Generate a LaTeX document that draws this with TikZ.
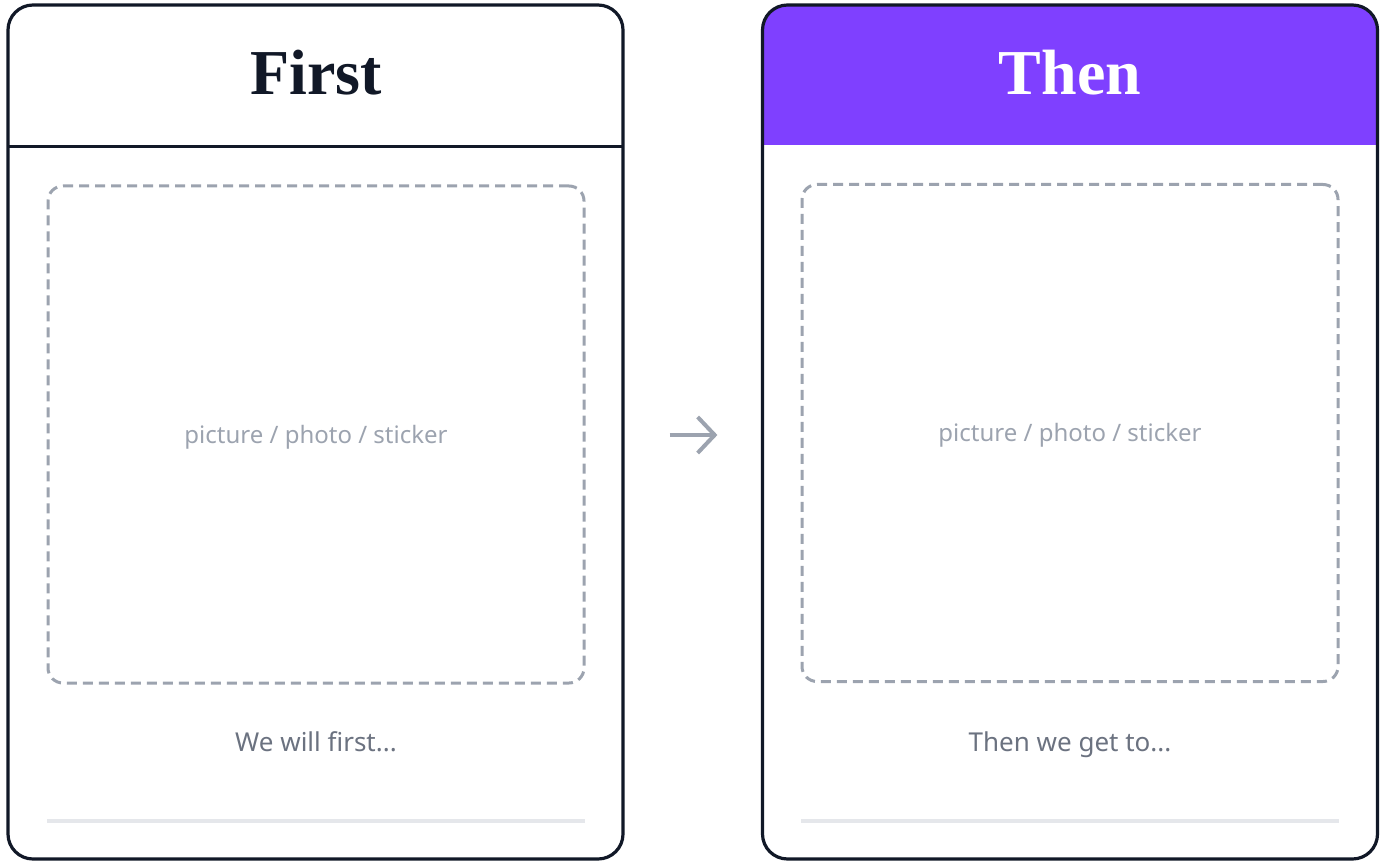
\documentclass[tikz,border=0pt]{standalone}
\usepackage{fontspec}
\setmainfont{Liberation Serif}
\newfontfamily\uisans{Noto Sans}
\usetikzlibrary{arrows.meta}
\definecolor{ink}{HTML}{111827}
\definecolor{violet}{HTML}{7F40FF}
\definecolor{dashgray}{HTML}{9CA3AF}
\definecolor{capgray}{HTML}{6B7280}
\definecolor{rulegray}{HTML}{E5E7EB}
\tikzset{
  cardbox/.style={draw=ink, line width=3.2pt, rounded corners=25pt, inner sep=0pt, minimum width=615pt, minimum height=854pt},
  photobox/.style={draw=dashgray, line width=3pt, dash pattern=on 10pt off 6pt, rounded corners=15pt, inner sep=0pt, minimum width=536pt, minimum height=497pt},
  phototext/.style={font=\uisans\fontsize{24}{28}\selectfont, text=dashgray, inner sep=0pt, anchor=base},
  titletext/.style={font=\bfseries\fontsize{64}{74}\selectfont, inner sep=0pt, anchor=base},
  captext/.style={font=\uisans\fontsize{26}{30}\selectfont, text=capgray, inner sep=0pt, anchor=base},
  bottomrule/.style={draw=rulegray, line width=4pt},
  flow/.style={draw=dashgray, line width=4pt, -{Straight Barb[length=17pt,width=36pt,line width=4pt]}},
}
\begin{document}
\begin{tikzpicture}[x=1pt,y=-1pt]
\useasboundingbox (0,0) rectangle (1383,861);
% right header fill
\begin{scope}
  \clip[rounded corners=25pt] (763,5) rectangle (1377,859);
  \fill[violet] (763,5) rectangle (1377,145);
\end{scope}
\node[cardbox] (c1) at (315.5,432) {};
\node[cardbox] (c2) at (1070,432) {};
% left header divider
\coordinate (d1a) at (8,146.5);
\coordinate (d1b) at (623,146.5);
\draw[ink, line width=3pt] (d1a) -- (d1b);
% titles
\node[titletext, text=ink] (t1) at (316,95) {First};
\node[titletext, text=white] (t2) at (1070,95) {Then};
% photo boxes
\node[photobox] (p1) at (316,434.5) {};
\node[photobox] (p2) at (1070,433) {};
\node[phototext] (l1) at (316,443) {picture / photo / sticker};
\node[phototext] (l2) at (1070,441) {picture / photo / sticker};
% captions
\node[captext] (k1) at (316,751) {We will first...};
\node[captext] (k2) at (1070,751) {Then we get to...};
% bottom rules
\coordinate (r1a) at (47,820.5);
\coordinate (r1b) at (585,820.5);
\coordinate (r2a) at (801,820.5);
\coordinate (r2b) at (1339,820.5);
\draw[bottomrule] (r1a) -- (r1b);
\draw[bottomrule] (r2a) -- (r2b);
% arrow
\draw[flow, shorten <=45pt, shorten >=43.5pt] ([yshift=-3pt]c1.east) -- ([yshift=-3pt]c2.west);
\end{tikzpicture}
\end{document}
